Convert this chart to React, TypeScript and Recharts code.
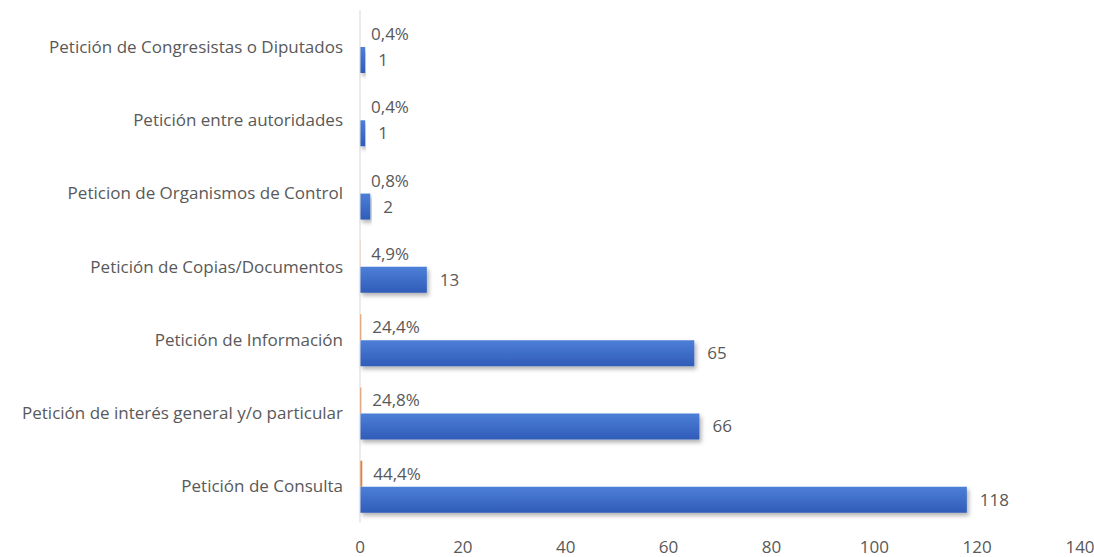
import { BarChart, Bar, XAxis, YAxis, LabelList } from 'recharts';

const categories = [
  'Petición de Congresistas o Diputados',
  'Petición entre autoridades',
  'Peticion de Organismos de Control',
  'Petición de Copias/Documentos',
  'Petición de Información',
  'Petición de interés general y/o particular',
  'Petición de Consulta',
];
const percentValues = [0.004, 0.004, 0.008, 0.049, 0.244, 0.248, 0.444];
const countValues = [1, 1, 2, 13, 65, 66, 118];
const xTicks = [0, 20, 40, 60, 80, 100, 120, 140];

const data = categories.map((name, i) => ({
  name,
  pct: percentValues[i],
  count: countValues[i],
}));

const textColor = '#595959';
const font = '"Open Sans", sans-serif';
const fs = 17;

const fmtPct = (v: any) => `${(Number(v) * 100).toFixed(1).replace('.', ',')}%`;

export default function App() {
  return (
    <div style={{ position: 'absolute', left: 0, top: 0, width: 1094, height: 557, background: '#fff' }}>
      <BarChart
        width={1094}
        height={557}
        data={data}
        layout="vertical"
        margin={{ top: 10, right: 14, bottom: 0, left: 0 }}
        barGap={0}
        barSize={26}
        style={{ fontFamily: font }}
      >
        <defs>
          <linearGradient id="blueGrad" x1="0" y1="0" x2="0" y2="1">
            <stop offset="0%" stopColor="#4d7fd8" />
            <stop offset="100%" stopColor="#2f5cb8" />
          </linearGradient>
          <filter id="barShadow" x="-5%" y="-20%" width="115%" height="160%">
            <feDropShadow dx="2" dy="3" stdDeviation="2" floodColor="#000" floodOpacity="0.3" />
          </filter>
        </defs>
        <XAxis
          type="number"
          domain={[0, 140]}
          ticks={xTicks}
          axisLine={false}
          tickLine={false}
          tickMargin={12}
          height={34}
          interval={0}
          tick={{ fill: textColor, fontSize: fs, fontFamily: font }}
        />
        <YAxis
          type="category"
          dataKey="name"
          width={360}
          axisLine={{ stroke: '#d9d9d9' }}
          tickLine={false}
          tickMargin={11}
          interval={0}
          tick={{ fill: textColor, fontSize: fs, fontFamily: font }}
        />
        <Bar dataKey="pct" fill="#ED7D31" isAnimationActive={false}>
          <LabelList
            dataKey="pct"
            position="right"
            offset={11}
            formatter={fmtPct}
            fill={textColor}
            fontSize={fs}
            fontFamily={font}
          />
        </Bar>
        <Bar dataKey="count" fill="url(#blueGrad)" filter="url(#barShadow)" isAnimationActive={false}>
          <LabelList
            dataKey="count"
            position="right"
            offset={13}
            fill={textColor}
            fontSize={fs}
            fontFamily={font}
          />
        </Bar>
      </BarChart>
    </div>
  );
}
